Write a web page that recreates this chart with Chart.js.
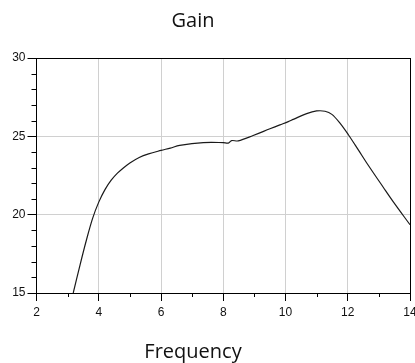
<!DOCTYPE html>
<html>
<head>
<meta charset="utf-8">
<script src="https://cdn.jsdelivr.net/npm/chart.js@4/dist/chart.umd.min.js"></script>
<style>
  html, body { margin: 0; padding: 0; background: #fff; }
  #wrap { width: 415px; height: 363px; }
</style>
</head>
<body>
<div id="wrap"><canvas id="gain" width="415" height="363"></canvas></div>
<script>
// ── Data ──────────────────────────────────────────────────────────────────────
const freq = [3.18, 3.4, 3.6, 3.8, 4.0, 4.2, 4.4, 4.6, 4.8, 5.0, 5.3, 5.6, 6.0, 6.3, 6.6, 7.36,
              8.0, 8.16, 8.27, 8.48, 8.96, 9.5, 9.82, 10.09, 10.25, 10.68, 11.0, 11.27,
              11.49, 11.75, 12.02, 12.35, 12.61, 13.14, 13.47, 14.0];
const gain = [15.0, 16.8, 18.35, 19.75, 20.8, 21.6, 22.2, 22.65, 23.0, 23.3, 23.65, 23.88, 24.1, 24.25, 24.42, 24.6,
              24.6, 24.57, 24.73, 24.71, 25.05, 25.48, 25.73, 25.94, 26.08, 26.45, 26.62, 26.6,
              26.4, 25.84, 25.1, 24.1, 23.3, 21.75, 20.8, 19.36];

const xRange = [2, 14];
const yRange = [15, 30];
const chartTitle = 'Gain';
const xTitle = 'Frequency';

const tickFont = { family: '"Liberation Sans", Arial, sans-serif', size: 12 };
const capFont  = '20px "Open Sans", "Noto Sans", sans-serif';

// ── Minor ticks + captions ────────────────────────────────────────────────────
const extras = {
    id: 'extras',
    afterDraw(chart) {
        const { ctx, chartArea: a, scales: { x, y } } = chart;
        ctx.save();
        ctx.strokeStyle = '#000';
        ctx.lineWidth = 1;
        ctx.beginPath();
        for (let v = yRange[0] + 1; v < yRange[1]; v++) {
            if (v % 5 === 0) continue;
            const py = Math.round(y.getPixelForValue(v)) + 0.5;
            ctx.moveTo(a.left - 5, py);
            ctx.lineTo(a.left, py);
        }
        for (let v = xRange[0] + 1; v < xRange[1]; v += 2) {
            const px = Math.round(x.getPixelForValue(v)) + 0.5;
            ctx.moveTo(px, a.bottom);
            ctx.lineTo(px, a.bottom + 4);
        }
        ctx.stroke();

        ctx.fillStyle = '#111';
        ctx.font = capFont;
        ctx.textAlign = 'center';
        ctx.textBaseline = 'alphabetic';
        ctx.fillText(chartTitle, 193, 27);
        ctx.fillText(xTitle, 193, 358);
        ctx.restore();
    }
};

const edgeColor = (lo, hi) => c => (c.tick && (c.tick.value === lo || c.tick.value === hi)) ? '#000' : '#d0d0d0';

new Chart(document.getElementById('gain'), {
    type: 'line',
    data: {
        datasets: [{
            data: freq.map((f, i) => ({ x: f, y: gain[i] })),
            borderColor: '#1a1a1a',
            borderWidth: 1.2,
            pointRadius: 0,
            tension: 0.35,
            fill: false
        }]
    },
    options: {
        responsive: false,
        animation: false,
        layout: { padding: { top: 58, right: 5, bottom: 0, left: 0 } },
        plugins: { legend: { display: false }, title: { display: false }, tooltip: { enabled: false } },
        scales: {
            x: {
                type: 'linear', min: xRange[0], max: xRange[1],
                ticks: { stepSize: 2, color: '#111', font: tickFont, padding: 4, maxRotation: 0 },
                grid: { color: edgeColor(xRange[0], xRange[1]), tickColor: '#000', tickLength: 8, lineWidth: 1 },
                border: { display: true, color: '#000', width: 1 },
                afterFit(s) { s.height = 70; s.paddingLeft = 0; s.paddingRight = 0; }
            },
            y: {
                type: 'linear', min: yRange[0], max: yRange[1],
                ticks: { stepSize: 5, color: '#111', font: tickFont, padding: 2 },
                grid: { color: edgeColor(yRange[0], yRange[1]), tickColor: '#000', tickLength: 9, lineWidth: 1 },
                border: { display: true, color: '#000', width: 1 },
                afterFit(s) { s.width = 36.5; s.paddingTop = 0; s.paddingBottom = 0; }
            }
        }
    },
    plugins: [extras]
});
</script>
</body>
</html>
